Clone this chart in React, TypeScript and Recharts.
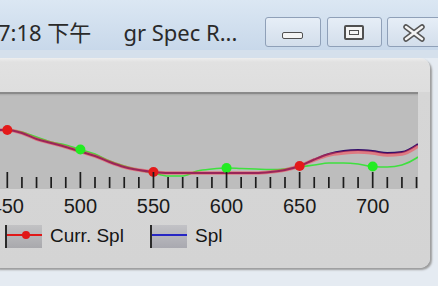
import React from 'react';
import { LineChart, Line, XAxis, YAxis } from 'recharts';

// wavelength (nm)
const wavelengths = [445, 450, 460, 470, 480, 490, 500, 510, 520, 530, 540, 550, 560, 570, 580, 590, 600, 610, 620, 630, 640, 650, 660, 670, 680, 690, 700, 710, 720, 730, 731];
// "Curr. Spl" (red)
const currSpl = [59, 59, 56, 50, 46, 42, 37.5, 33, 27, 22, 19, 17, 16, 16, 16, 16, 16, 16, 16, 17, 19, 23, 29, 34, 36, 37, 36, 34, 35, 42, 43];
// "Spl" (blue)
const splValues = [59, 59, 56, 50, 46, 42, 37.5, 33, 27, 22, 19, 17, 16, 16, 16, 16, 16, 16, 16, 17, 19, 23, 29.5, 35, 38, 39, 38, 36, 37, 44, 45];
// reference (green, not in legend)
const refValues = [59, 59, 57, 52, 47, 44, 39.5, 35, 28, 23, 19, 16, 13, 13, 18, 20, 21, 20.5, 20, 19.5, 20, 22, 24, 26, 26, 25, 22.5, 22, 24, 31, 32];

const tickValues = [450, 460, 470, 480, 490, 500, 510, 520, 530, 540, 550, 560, 570, 580, 590, 600, 610, 620, 630, 640, 650, 660, 670, 680, 690, 700, 710, 720, 730];
const majorTicks = [450, 500, 550, 600, 650, 700];
const currMarkers = [450, 550, 650];
const refMarkers = [500, 600, 700];

const data = wavelengths.map((wl, i) => ({ wl, curr: currSpl[i], spl: splValues[i], ref: refValues[i] }));

const WaveTick = (props: any) => {
  const { x, y, payload } = props;
  const v = payload.value;
  const major = majorTicks.includes(v);
  return (
    <g>
      <line x1={x} x2={x} y1={y - 1} y2={major ? y - 17 : y - 12} stroke="#1c1c1c" strokeWidth={1.7} />
      {major && (
        <text x={x} y={y + 24} textAnchor="middle" fontSize={20} fontFamily="'Liberation Sans', Arial, sans-serif" fill="#1a1a1a">
          {v}
        </text>
      )}
    </g>
  );
};

const currDot = (props: any) => {
  const { cx, cy, payload, index } = props;
  if (currMarkers.includes(payload.wl)) {
    return <circle key={'c' + index} cx={cx} cy={cy} r={5} fill="#e41a1a" />;
  }
  return <g key={'c' + index} />;
};

const refDot = (props: any) => {
  const { cx, cy, payload, index } = props;
  if (refMarkers.includes(payload.wl)) {
    return <circle key={'r' + index} cx={cx} cy={cy} r={5} fill="#22ec22" />;
  }
  return <g key={'r' + index} />;
};

const btn: React.CSSProperties = {
  position: 'absolute',
  top: 17,
  height: 30,
  border: '1px solid #8fa0b8',
  borderRadius: 3,
  background: 'linear-gradient(#e6eef7, #d3deeb)',
  boxSizing: 'border-box',
};

export default function App() {
  return (
    <div style={{ position: 'fixed', left: 0, top: 0, width: 438, height: 286, overflow: 'hidden', background: '#e5ebf2' }}>
      {/* title bar */}
      <div style={{ position: 'absolute', left: 0, top: 0, width: 438, height: 50, background: 'linear-gradient(#dbe7f3, #c8d8ea)' }} />
      <div style={{ position: 'absolute', left: 0, top: 50, width: 438, height: 8, background: '#d5e0ec' }} />
      <div
        style={{
          position: 'absolute',
          left: -2,
          top: 18,
          fontSize: 22,
          lineHeight: '28px',
          color: '#2a2a2a',
          fontFamily: "'Noto Sans', 'Noto Sans CJK SC', sans-serif",
          whiteSpace: 'nowrap',
        }}
      >
        7:18 下午<span style={{ marginLeft: 32 }}>gr Spec R...</span>
      </div>
      <div style={{ ...btn, left: 265, width: 56 }}>
        <div style={{ position: 'absolute', left: 16, top: 14, width: 21, height: 7, border: '1.5px solid #505050', borderRadius: 2, background: '#f4f4f4', boxSizing: 'border-box' }} />
      </div>
      <div style={{ ...btn, left: 327, width: 55 }}>
        <div style={{ position: 'absolute', left: 16, top: 7, width: 20, height: 15, border: '2px solid #505050', borderRadius: 2, background: '#f4f4f4', boxSizing: 'border-box' }}>
          <div style={{ position: 'absolute', left: 3, top: 3, width: 10, height: 5, border: '1.5px solid #505050', boxSizing: 'border-box' }} />
        </div>
      </div>
      <div style={{ ...btn, left: 387, width: 60 }}>
        <svg width={26} height={20} style={{ position: 'absolute', left: 13, top: 5 }}>
          <line x1={5} y1={4} x2={21} y2={16} stroke="#555" strokeWidth={5.5} strokeLinecap="round" />
          <line x1={21} y1={4} x2={5} y2={16} stroke="#555" strokeWidth={5.5} strokeLinecap="round" />
          <line x1={5} y1={4} x2={21} y2={16} stroke="#f4f4f4" strokeWidth={2.5} strokeLinecap="round" />
          <line x1={21} y1={4} x2={5} y2={16} stroke="#f4f4f4" strokeWidth={2.5} strokeLinecap="round" />
        </svg>
      </div>

      {/* panel */}
      <div
        style={{
          position: 'absolute',
          left: -12,
          top: 58,
          width: 442,
          height: 210,
          borderRadius: 10,
          background: 'linear-gradient(#eeeeee 0px, #e1e1e1 4px, #dedede 34px, #d6d6d6 34px, #d4d4d4 100%)',
          boxShadow: '2px 2px 2px #9c9c9c',
        }}
      />
      {/* plot area */}
      <div style={{ position: 'absolute', left: 0, top: 92, width: 418, height: 2, background: '#8a8a8a' }} />
      <div style={{ position: 'absolute', left: 0, top: 94, width: 418, height: 95, background: 'linear-gradient(#a9a9a9 0px, #bdbdbd 2px, #bdbdbd 100%)' }} />

      <div style={{ position: 'absolute', left: 0, top: 95 }}>
        <LineChart width={418} height={134} data={data} margin={{ top: 0, right: 0, bottom: 0, left: 0 }}>
          <XAxis
            dataKey="wl"
            type="number"
            domain={[445, 731]}
            ticks={tickValues}
            interval={0}
            height={40}
            tickLine={false}
            axisLine={false}
            tickSize={0}
            tickMargin={0}
            tick={<WaveTick />}
            allowDataOverflow
          />
          <YAxis hide domain={[0, 94]} allowDataOverflow />
          <Line type="monotone" dataKey="ref" stroke="#3fe03f" strokeWidth={1.6} dot={refDot} isAnimationActive={false} />
          <Line type="monotone" dataKey="spl" stroke="#34106a" strokeWidth={2} dot={false} isAnimationActive={false} />
          <Line type="monotone" dataKey="curr" stroke="#ff3a48" strokeOpacity={0.5} strokeWidth={3.5} dot={currDot} isAnimationActive={false} />
        </LineChart>
      </div>

      {/* legend */}
      <div style={{ position: 'absolute', left: 5, top: 225, width: 37, height: 23, background: 'linear-gradient(#c2c2c4, #a9a9ad)', borderLeft: '2px solid #2a2a2a', boxSizing: 'border-box' }}>
        <div style={{ position: 'absolute', left: 0, right: 0, top: 9, height: 1.5, background: '#e01818' }} />
        <div style={{ position: 'absolute', left: 15, top: 6, width: 8, height: 8, borderRadius: 4, background: '#e01818' }} />
      </div>
      <div style={{ position: 'absolute', left: 50, top: 224, fontSize: 19, lineHeight: '24px', fontFamily: "'Liberation Sans', Arial, sans-serif", color: '#151515' }}>Curr. Spl</div>
      <div style={{ position: 'absolute', left: 150, top: 225, width: 37, height: 23, background: 'linear-gradient(#c2c2c6, #a9a9b0)', borderLeft: '2px solid #2a2a2a', boxSizing: 'border-box' }}>
        <div style={{ position: 'absolute', left: 0, right: 0, top: 9, height: 1.5, background: '#2626c4' }} />
      </div>
      <div style={{ position: 'absolute', left: 195, top: 224, fontSize: 19, lineHeight: '24px', fontFamily: "'Liberation Sans', Arial, sans-serif", color: '#151515' }}>Spl</div>
    </div>
  );
}
